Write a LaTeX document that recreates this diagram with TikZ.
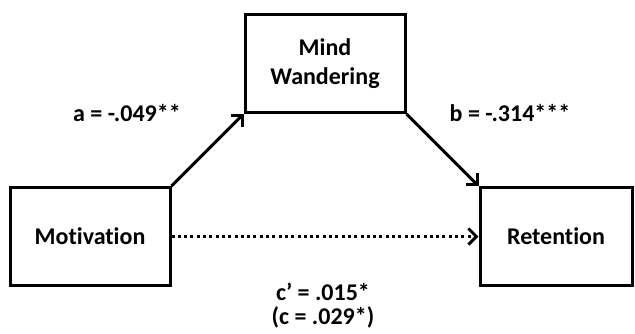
\documentclass[tikz,border=0pt]{standalone}
\usepackage{fontspec}
\setmainfont{Carlito}[Ligatures=NoCommon]
\usetikzlibrary{arrows.meta}
\begin{document}
\begin{tikzpicture}[x=1pt,y=-1pt,
  box/.style={draw,line width=3pt,minimum width=160pt,minimum height=98pt,inner sep=0pt,font=\bfseries\fontsize{24}{29}\selectfont,align=center},
  lbl/.style={font=\bfseries\fontsize{24}{24}\selectfont,align=center,inner sep=0pt},
  conn/.style={line width=3pt,-{Straight Barb[length=8pt,width=16pt,line width=3pt]}},
  dotline/.style={dash pattern=on 3pt off 3.3pt}]
\useasboundingbox (0,0) rectangle (635,333);
\node[box] (mw) at (325,63.5) {Mind\\Wandering};
\node[box] (mot) at (90,236.5) {Motivation};
\node[box,minimum width=152pt] (ret) at (556,236.5) {Retention};
\draw[conn] (mot.north east) -- (mw.south west);
\draw[conn] (mw.south east) -- (ret.north west);
\draw[conn,dotline] (mot.east) -- (ret.west);
\node[lbl] (la) at (127,113) {a = -.049**};
\node[lbl] (lb) at (510,113) {b = -.314***};
\node[lbl] (lc) at (323,306) {c’ = .015*\\(c = .029*)};
\end{tikzpicture}
\end{document}
